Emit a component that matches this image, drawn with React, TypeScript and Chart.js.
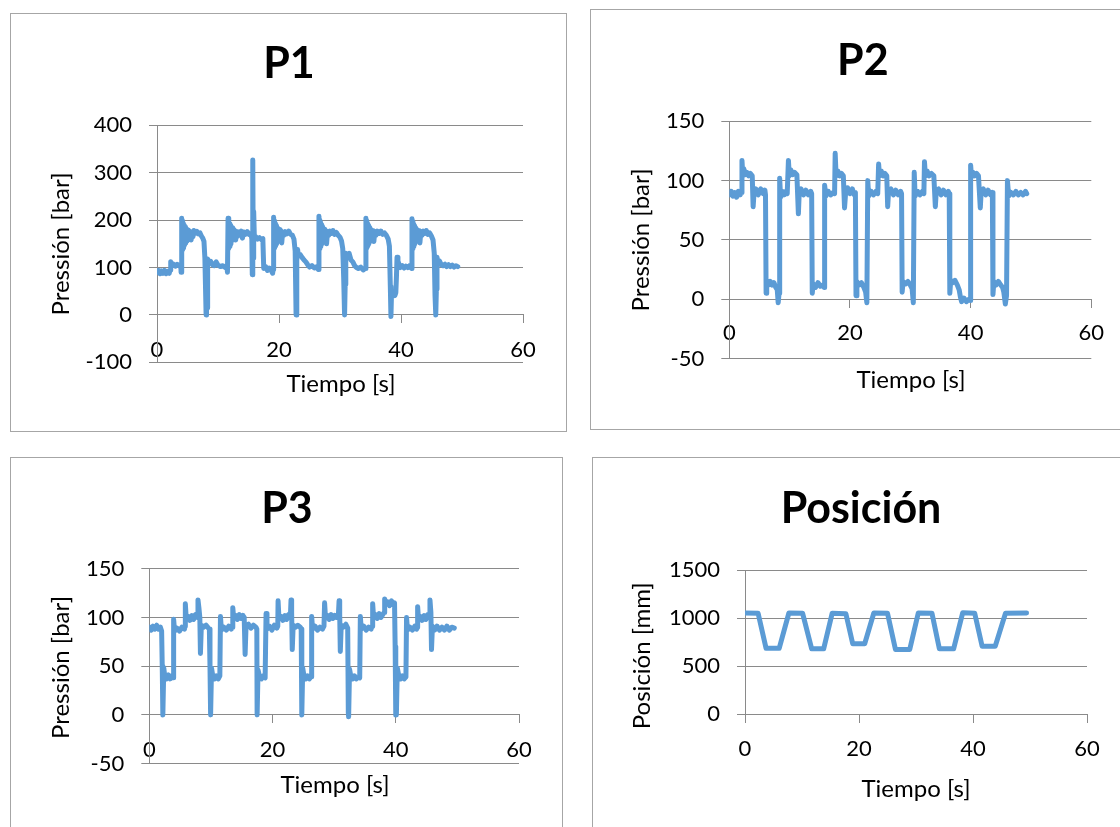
import React, { useEffect, useRef } from "react";
import { Chart, registerables } from "chart.js";

Chart.register(...registerables);
Chart.defaults.font.family = "Lato";

const LINE_COLOR = "#5B9BD5";
const GRID_COLOR = "#8a8a8a";
const BOX_COLOR = "#a6a6a6";

const timeTicks = [0, 20, 40, 60];
const p1Ticks = [-100, 0, 100, 200, 300, 400];
const p2Ticks = [-50, 0, 50, 100, 150];
const p3Ticks = [-50, 0, 50, 100, 150];
const posTicks = [0, 500, 1000, 1500];

// [time s, pressure bar]
const p1Samples: [number, number][] = [
  [0, 90], [0.25, 94], [0.5, 87], [0.75, 93], [1.0, 88], [1.25, 94], [1.5, 87], [1.75, 92], [2.0, 88], [2.15, 95], [2.25, 112], [2.4, 103], [2.7, 107], [3.0, 103], [3.3, 107], [3.6, 104], [3.9, 106], [3.95, 90],
  [4.05, 204], [4.12, 138], [4.2, 198], [4.28, 142], [4.36, 192], [4.44, 148], [4.52, 188], [4.6, 152], [4.7, 185], [4.8, 156], [4.9, 181], [5.0, 160], [5.15, 179], [5.3, 163], [5.45, 176], [5.6, 158], [5.75, 174], [5.9, 165], [6.05, 178], [6.3, 172], [6.55, 176], [6.8, 171], [7.05, 173], [7.3, 166], [7.5, 162], [7.7, 155], [7.85, 120], [7.95, 60], [8.05, 0], [8.12, 35], [8.2, 15], [8.3, 118], [8.5, 110], [8.8, 113], [9.1, 106], [9.4, 104], [9.7, 112], [10.0, 105], [10.4, 102], [10.8, 104], [11.2, 100], [11.45, 103], [11.55, 90],
  [11.65, 204], [11.72, 140], [11.8, 198], [11.88, 145], [11.96, 192], [12.04, 150], [12.12, 188], [12.2, 155], [12.3, 184], [12.4, 158], [12.5, 180], [12.6, 162], [12.75, 178], [12.9, 158], [13.05, 176], [13.2, 166], [13.4, 175], [13.6, 170], [13.8, 177], [14.0, 162], [14.2, 175], [14.5, 170], [14.8, 176], [15.1, 170], [15.4, 172], [15.55, 160], [15.62, 85], [15.7, 327], [15.78, 120], [15.85, 218], [15.95, 168], [16.2, 165], [16.5, 160], [16.8, 163], [17.1, 159], [17.35, 161], [17.5, 98], [17.8, 102], [18.1, 94], [18.4, 99], [18.7, 95], [18.95, 88], [19.05, 96],
  [19.12, 206], [19.2, 142], [19.28, 198], [19.36, 146], [19.44, 192], [19.52, 150], [19.6, 188], [19.7, 155], [19.8, 183], [19.9, 160], [20.0, 180], [20.15, 165], [20.3, 178], [20.45, 152], [20.6, 175], [20.8, 168], [21.0, 176], [21.3, 171], [21.6, 177], [21.9, 170], [22.2, 168], [22.45, 160], [22.65, 135], [22.8, 0], [22.88, 40], [22.95, 115], [23.05, 138], [23.2, 124], [23.5, 127], [23.8, 121], [24.1, 116], [24.4, 112], [24.7, 106], [25.0, 101], [25.4, 104], [25.8, 99], [26.2, 102], [26.45, 96],
  [26.55, 208], [26.62, 140], [26.7, 200], [26.78, 145], [26.86, 194], [26.94, 150], [27.02, 190], [27.1, 155], [27.2, 185], [27.3, 158], [27.4, 181], [27.5, 162], [27.65, 178], [27.8, 150], [27.95, 176], [28.15, 168], [28.35, 177], [28.6, 172], [28.85, 178], [29.1, 170], [29.4, 174], [29.7, 168], [30.0, 164], [30.25, 156], [30.45, 140], [30.6, 80], [30.75, 0], [30.85, 65], [30.95, 130], [31.2, 126], [31.5, 130], [31.8, 116], [32.1, 112], [32.4, 104], [32.7, 100], [33.0, 98], [33.4, 101], [33.8, 95], [34.1, 98],
  [34.25, 204], [34.32, 142], [34.4, 198], [34.48, 146], [34.56, 192], [34.64, 150], [34.72, 188], [34.8, 155], [34.9, 184], [35.0, 160], [35.1, 180], [35.25, 164], [35.4, 178], [35.55, 155], [35.7, 176], [35.9, 168], [36.1, 177], [36.4, 172], [36.7, 177], [37.0, 170], [37.3, 173], [37.6, 168], [37.9, 160], [38.1, 145], [38.25, 60], [38.35, -3], [38.45, 48], [38.6, 40], [38.8, 46], [39.0, 41], [39.15, 47], [39.25, 80], [39.35, 122], [39.5, 114], [39.7, 106], [39.9, 100], [40.2, 104], [40.5, 99], [40.8, 103], [41.1, 100], [41.4, 104], [41.7, 98],
  [41.8, 203], [41.87, 140], [41.95, 197], [42.03, 145], [42.11, 191], [42.19, 150], [42.27, 187], [42.35, 155], [42.45, 183], [42.55, 158], [42.65, 180], [42.8, 164], [42.95, 178], [43.1, 152], [43.25, 176], [43.45, 168], [43.65, 177], [43.9, 172], [44.15, 178], [44.4, 170], [44.7, 173], [45.0, 166], [45.25, 158], [45.45, 130], [45.58, 40], [45.7, 0], [45.8, 55], [45.9, 122], [46.05, 110], [46.3, 114], [46.6, 106], [46.9, 104], [47.2, 107], [47.5, 102], [47.8, 106], [48.1, 102], [48.4, 105], [48.7, 101], [49.0, 104], [49.3, 102],
];

const p2Samples: [number, number][] = [
  [0.0, 88], [0.3, 91], [0.6, 87], [0.9, 90], [1.2, 86], [1.5, 91], [1.8, 88], [2.0, 90], [2.1, 117], [2.25, 104], [2.4, 110], [2.6, 105], [2.9, 107], [3.2, 104], [3.5, 106], [3.8, 104], [3.95, 78], [4.1, 90], [4.4, 93], [4.8, 88], [5.2, 93], [5.6, 89], [5.9, 92], [6.0, 88],
  [6.1, 5], [6.2, 16], [6.5, 12], [6.8, 15], [7.1, 12], [7.4, 14], [7.7, 10], [7.95, 8], [8.1, -3], [8.25, 5], [8.35, 102], [8.5, 86], [8.8, 91], [9.1, 88], [9.4, 91], [9.6, 89],
  [9.8, 117], [9.95, 104], [10.2, 109], [10.5, 105], [10.8, 107], [11.2, 105], [11.45, 72], [11.6, 91], [11.9, 93], [12.3, 88], [12.7, 92], [13.1, 88], [13.5, 91], [13.65, 89],
  [13.75, 5], [13.9, 13], [14.3, 10], [14.7, 14], [15.1, 11], [15.5, 12], [15.7, 10], [15.8, 96], [16.0, 87], [16.4, 91], [16.8, 88], [17.2, 90], [17.45, 89],
  [17.55, 123], [17.7, 104], [18.0, 108], [18.3, 104], [18.6, 106], [18.9, 104], [19.1, 77], [19.3, 91], [19.6, 94], [20.0, 89], [20.4, 93], [20.7, 88], [20.9, 90],
  [21.0, 3], [21.15, 15], [21.5, 12], [21.9, 14], [22.3, 10], [22.6, 6], [22.8, -3], [22.95, 100], [23.1, 87], [23.5, 91], [23.9, 88], [24.3, 91], [24.6, 89],
  [24.75, 114], [24.9, 104], [25.2, 108], [25.5, 104], [25.8, 106], [26.1, 104], [26.25, 78], [26.4, 91], [26.8, 93], [27.2, 88], [27.6, 92], [28.0, 88], [28.4, 91], [28.55, 89],
  [28.65, 6], [28.8, 15], [29.2, 13], [29.6, 15], [30.0, 12], [30.3, 9], [30.5, -3], [30.65, 107], [30.8, 87], [31.2, 91], [31.6, 88], [32.0, 91], [32.25, 89],
  [32.35, 116], [32.5, 104], [32.8, 108], [33.1, 104], [33.5, 106], [33.9, 104], [34.15, 78], [34.3, 91], [34.7, 93], [35.1, 88], [35.5, 92], [35.9, 88], [36.3, 91], [36.45, 89],
  [36.55, 5], [36.7, 16], [37.0, 14], [37.4, 16], [37.8, 12], [38.1, 8], [38.3, 2], [38.5, -2], [38.9, 1], [39.3, -2], [39.7, 0], [39.9, -1],
  [40.0, 113], [40.15, 103], [40.4, 107], [40.7, 104], [41.0, 106], [41.3, 104], [41.6, 77], [41.75, 91], [42.1, 93], [42.5, 88], [42.9, 92], [43.3, 88], [43.6, 90],
  [43.7, 4], [43.85, 15], [44.2, 12], [44.6, 15], [45.0, 12], [45.3, 10], [45.5, 6], [45.75, -4], [45.95, 3], [46.1, 100], [46.3, 87], [46.7, 90], [47.1, 88], [47.5, 91], [47.9, 88], [48.3, 90], [48.7, 88], [49.1, 91], [49.3, 89],
];

const p3Samples: [number, number][] = [
  [0, 90], [0.3, 87], [0.6, 91], [0.9, 88], [1.2, 92], [1.5, 88], [1.8, 90], [2.0, 86],
  [2.1, 50], [2.2, 0], [2.35, 48], [2.5, 40], [2.8, 37], [3.1, 41], [3.4, 37], [3.7, 40], [3.85, 38],
  [3.95, 98], [4.1, 86], [4.5, 89], [4.9, 86], [5.3, 90], [5.7, 88], [5.8, 91],
  [5.85, 114], [6.0, 98], [6.3, 101], [6.6, 97], [6.9, 102], [7.2, 98], [7.5, 103], [7.8, 100], [7.9, 118], [8.05, 110], [8.2, 100], [8.3, 63], [8.45, 92], [8.8, 90], [9.2, 92], [9.6, 89], [9.75, 88],
  [9.85, 50], [9.95, 0], [10.1, 48], [10.3, 40], [10.6, 37], [10.9, 40], [11.2, 37], [11.45, 40],
  [11.55, 101], [11.7, 87], [12.1, 90], [12.5, 87], [12.9, 91], [13.3, 88], [13.45, 90],
  [13.55, 110], [13.7, 99], [14.0, 102], [14.3, 98], [14.6, 103], [14.9, 99], [15.2, 102], [15.4, 100], [15.55, 62], [15.7, 91], [16.1, 93], [16.5, 89], [16.9, 92], [17.3, 90], [17.45, 88],
  [17.5, 0], [17.65, 46], [17.9, 39], [18.2, 37], [18.5, 40], [18.8, 38],
  [18.95, 104], [19.1, 88], [19.5, 91], [19.9, 87], [20.3, 92], [20.7, 89], [20.85, 91],
  [20.9, 117], [21.05, 98], [21.4, 101], [21.7, 97], [22.0, 102], [22.3, 98], [22.6, 103], [22.9, 101], [23.0, 118], [23.1, 105], [23.2, 67], [23.35, 92], [23.7, 90], [24.1, 92], [24.5, 90], [24.65, 88],
  [24.75, 0], [24.9, 48], [25.1, 40], [25.4, 37], [25.7, 40], [26.0, 37], [26.25, 39],
  [26.35, 101], [26.5, 88], [26.9, 91], [27.3, 87], [27.7, 90], [28.1, 88], [28.35, 91],
  [28.45, 115], [28.6, 99], [28.9, 102], [29.2, 98], [29.5, 103], [29.8, 99], [30.1, 102], [30.4, 100], [30.7, 104], [30.8, 117], [30.9, 103], [31.0, 65], [31.15, 92], [31.5, 90], [31.9, 93], [32.2, 89],
  [32.3, 2], [32.35, -2], [32.5, 47], [32.7, 40], [33.0, 37], [33.3, 40], [33.6, 37], [34.0, 39], [34.15, 38],
  [34.25, 101], [34.4, 88], [34.8, 91], [35.2, 87], [35.6, 90], [36.0, 88], [36.15, 91],
  [36.25, 114], [36.4, 100], [36.7, 103], [37.0, 99], [37.3, 104], [37.6, 100], [37.9, 103], [38.1, 105], [38.2, 119], [38.35, 113], [38.7, 116], [39.0, 112], [39.3, 117], [39.6, 113], [39.8, 115], [39.9, 70],
  [40.0, 0], [40.1, 0], [40.25, 48], [40.5, 40], [40.8, 37], [41.1, 40], [41.4, 37], [41.65, 39],
  [41.75, 100], [41.9, 87], [42.3, 90], [42.7, 87], [43.1, 91], [43.4, 88], [43.5, 90],
  [43.55, 111], [43.7, 97], [44.0, 101], [44.3, 97], [44.6, 102], [44.9, 98], [45.2, 103], [45.45, 100], [45.55, 118], [45.7, 105], [45.8, 67], [45.95, 91], [46.3, 87], [46.7, 91], [47.1, 87], [47.5, 90], [47.9, 87], [48.3, 91], [48.7, 87], [49.1, 90], [49.5, 89],
];

// [time s, position mm]
const posSamples: [number, number][] = [
  [0, 1052], [2.3, 1050], [3.7, 684], [6.0, 684], [7.7, 1052], [10.1, 1050], [11.7, 679], [13.8, 679],
  [15.3, 1050], [17.7, 1045], [18.9, 732], [21.0, 732], [22.6, 1052], [25.0, 1050], [26.4, 672], [28.9, 672],
  [30.4, 1052], [32.8, 1050], [34.1, 679], [36.6, 679], [38.2, 1055], [40.3, 1050], [41.6, 705], [43.9, 705],
  [45.7, 1050], [49.4, 1052],
];

type Spec = {
  id: string;
  left: number; top: number; w: number; h: number;
  plot: { left: number; right: number; top: number; bottom: number };
  yTicks: number[];
  samples: [number, number][];
  title: string; yTitle: string; xTitle: string;
  titleAt: [number, number]; xTitleAt: [number, number]; yTitleAt: [number, number];
  xLabelPad: number;
};

const PANELS: Spec[] = [
  {
    id: "p1", left: 10, top: 13, w: 557, h: 419,
    plot: { left: 147, right: 513, top: 112.3, bottom: 349.4 },
    yTicks: p1Ticks, samples: p1Samples,
    title: "P1", yTitle: "Pressión [bar]", xTitle: "Tiempo [s]",
    titleAt: [279, 65.3], xTitleAt: [331, 378.7], yTitleAt: [59, 231], xLabelPad: 13.8,
  },
  {
    id: "p2", left: 590, top: 9, w: 540, h: 421,
    plot: { left: 139.3, right: 501.3, top: 112.3, bottom: 349.6 },
    yTicks: p2Ticks, samples: p2Samples,
    title: "P2", yTitle: "Pressión [bar]", xTitle: "Tiempo [s]",
    titleAt: [272.8, 66], xTitleAt: [321, 379.3], yTitleAt: [59, 231], xLabelPad: 12.5,
  },
  {
    id: "p3", left: 10, top: 457, w: 553, h: 375,
    plot: { left: 139.3, right: 509, top: 111.7, bottom: 306.6 },
    yTicks: p3Ticks, samples: p3Samples,
    title: "P3", yTitle: "Pressión [bar]", xTitle: "Tiempo [s]",
    titleAt: [277, 65.7], xTitleAt: [325, 335.7], yTitleAt: [59, 210.5], xLabelPad: 13.8,
  },
  {
    id: "p4", left: 592, top: 457, w: 540, h: 375,
    plot: { left: 153, right: 495, top: 113, bottom: 257 },
    yTicks: posTicks, samples: posSamples,
    title: "Posición", yTitle: "Posición [mm]", xTitle: "Tiempo [s]",
    titleAt: [269, 66.3], xTitleAt: [324, 339.7], yTitleAt: [58, 198.8], xLabelPad: 13.8,
  },
];

const panelText = {
  id: "panelText",
  beforeDraw(chart: any) {
    const ctx = chart.ctx;
    ctx.save();
    ctx.fillStyle = "#fff";
    ctx.fillRect(0, 0, chart.width, chart.height);
    ctx.strokeStyle = BOX_COLOR;
    ctx.lineWidth = 1;
    ctx.strokeRect(0.5, 0.5, chart.width - 1, chart.height - 1);
    ctx.restore();
  },
  afterDraw(chart: any, _a: any, opts: any) {
    const ctx = chart.ctx;
    ctx.save();
    ctx.fillStyle = "#000";
    ctx.textAlign = "center";
    ctx.textBaseline = "alphabetic";
    ctx.font = "bold 43px Lato";
    ctx.fillText(opts.title, opts.titleAt[0], opts.titleAt[1]);
    ctx.font = "24px Lato";
    ctx.fillText(opts.xTitle, opts.xTitleAt[0], opts.xTitleAt[1]);
    ctx.translate(opts.yTitleAt[0], opts.yTitleAt[1]);
    ctx.rotate(-Math.PI / 2);
    ctx.fillText(opts.yTitle, 0, 0);
    ctx.restore();
  },
};

function Panel({ spec }: { spec: Spec }) {
  const ref = useRef<HTMLCanvasElement | null>(null);
  useEffect(() => {
    if (!ref.current) return;
    const yMin = spec.yTicks[0];
    const yMax = spec.yTicks[spec.yTicks.length - 1];
    const chart = new Chart(ref.current, {
      type: "line",
      data: {
        datasets: [
          {
            data: spec.samples.map(([x, y]) => ({ x, y })),
            borderColor: LINE_COLOR,
            borderWidth: 5,
            pointRadius: 0,
            tension: 0,
            fill: false,
            borderJoinStyle: "round",
            borderCapStyle: "round",
          } as any,
        ],
      },
      plugins: [panelText as any],
      options: {
        animation: false,
        responsive: false,
        devicePixelRatio: 1,
        events: [],
        layout: {
          padding: {
            left: 0,
            top: spec.plot.top,
            right: spec.w - spec.plot.right,
            bottom: spec.h - spec.plot.bottom,
          },
        },
        plugins: {
          legend: { display: false },
          tooltip: { enabled: false },
          title: { display: false },
          panelText: {
            title: spec.title,
            xTitle: spec.xTitle,
            yTitle: spec.yTitle,
            titleAt: spec.titleAt,
            xTitleAt: spec.xTitleAt,
            yTitleAt: spec.yTitleAt,
          },
        } as any,
        scales: {
          x: {
            type: "linear",
            position: { y: 0 } as any,
            min: timeTicks[0],
            max: timeTicks[timeTicks.length - 1],
            afterFit: (s: any) => { s.height = 0; },
            afterBuildTicks: (s: any) => { s.ticks = timeTicks.map((v) => ({ value: v })); },
            grid: { drawOnChartArea: false, drawTicks: true, tickLength: 8, color: GRID_COLOR, lineWidth: 1 },
            border: { display: true, color: GRID_COLOR, width: 1 },
            ticks: {
              color: "#000",
              font: { family: "Lato", size: 22 },
              padding: spec.xLabelPad,
              maxRotation: 0,
              autoSkip: false,
              callback: (v: any) => String(v),
            },
          },
          y: {
            type: "linear",
            position: "left",
            min: yMin,
            max: yMax,
            afterFit: (s: any) => { s.width = spec.plot.left; },
            afterBuildTicks: (s: any) => { s.ticks = spec.yTicks.map((v) => ({ value: v })); },
            grid: { drawOnChartArea: true, drawTicks: true, tickLength: 8, color: GRID_COLOR, lineWidth: 1 },
            border: { display: true, color: GRID_COLOR, width: 1 },
            ticks: {
              color: "#000",
              font: { family: "Lato", size: 22 },
              padding: 17,
              callback: (v: any) => String(v),
            },
          },
        },
      } as any,
    });
    return () => chart.destroy();
  }, [spec]);
  return (
    <canvas
      ref={ref}
      width={spec.w}
      height={spec.h}
      style={{ position: "absolute", left: spec.left, top: spec.top, width: spec.w, height: spec.h }}
    />
  );
}

export default function App() {
  return (
    <div
      style={{
        position: "absolute",
        left: 0,
        top: 0,
        width: 1120,
        height: 827,
        overflow: "hidden",
        background: "#fff",
      }}
    >
      {PANELS.map((p) => (
        <Panel key={p.id} spec={p} />
      ))}
    </div>
  );
}
